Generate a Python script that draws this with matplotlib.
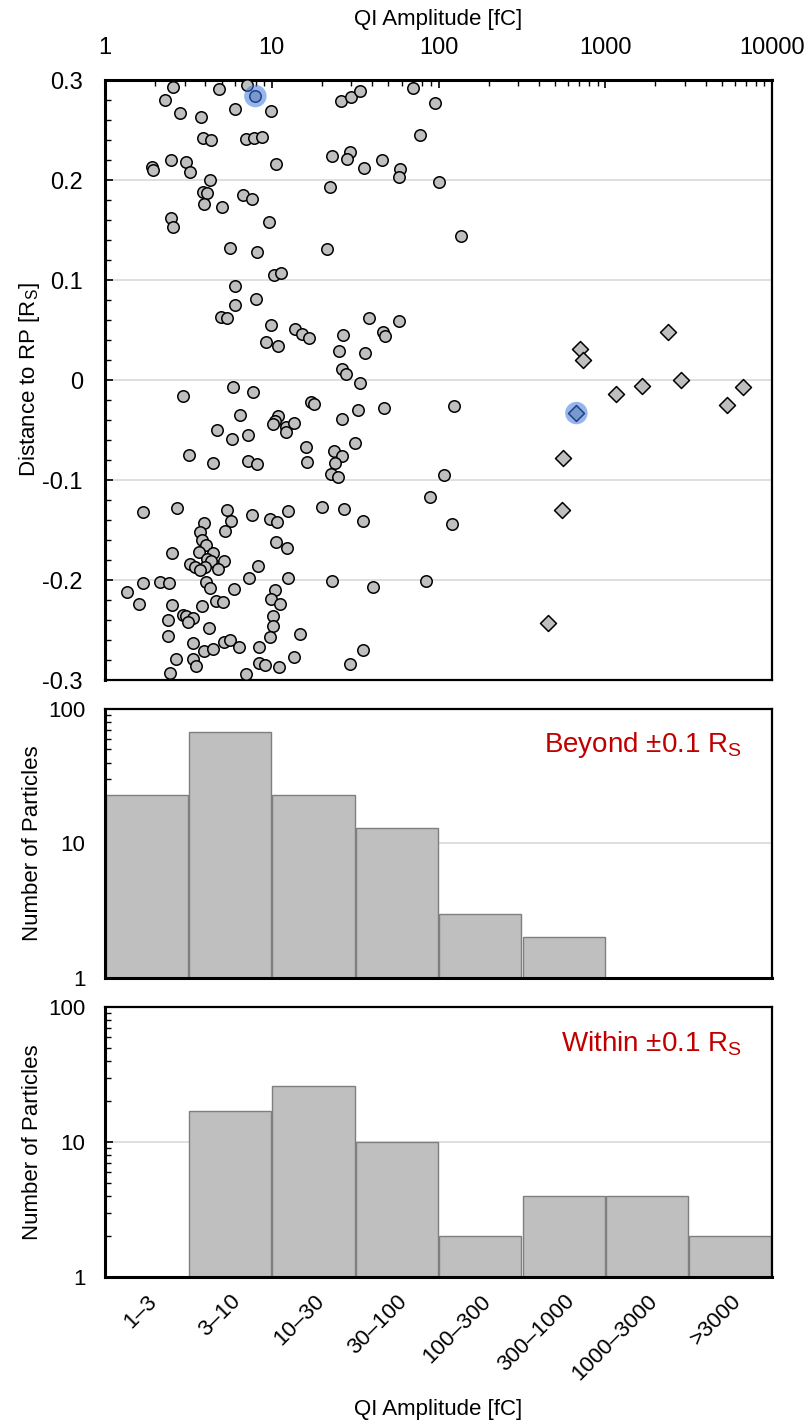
import matplotlib
matplotlib.use("Agg")
import matplotlib.pyplot as plt
from matplotlib.ticker import FixedLocator, LogLocator, MultipleLocator, NullFormatter, FuncFormatter
import numpy as np

plt.rcParams["font.family"] = ["Liberation Sans", "DejaVu Sans"]
plt.rcParams["mathtext.default"] = "regular"

# ── scatter data: QI amplitude [fC] vs distance to RP [Rs] ──
amp_circle = [
    2.57, 2.29, 2.82, 3.76, 4.83, 7.07, 6.02, 9.86, 3.89, 4.32,
    6.98, 7.86, 8.74, 2.49, 1.91, 1.95, 3.06, 3.25, 10.6, 4.28,
    3.89, 4.11, 3.92, 5.05, 6.70, 7.58, 2.49, 2.55, 9.67, 5.60,
    8.16, 10.3, 11.3, 6.02, 8.01, 6.05, 4.94, 5.37, 9.86, 9.24,
    10.9, 5.88, 7.69, 2.92, 6.42, 10.95, 10.5, 10.2, 12.1, 13.5,
    12.1, 4.68, 5.75, 7.20, 3.20, 4.42, 7.20, 8.16, 1.70, 2.69,
    5.37, 5.67, 7.65, 9.76, 10.75, 3.92, 3.71, 5.27, 3.80, 10.6,
    4.03, 3.65, 2.53, 4.42, 4.11, 4.32, 5.15, 3.23, 3.48, 3.98,
    3.71, 4.74, 8.24, 7.30, 1.355, 1.68, 2.14, 2.43, 4.03, 4.26,
    5.91, 1.60, 2.51, 3.80, 4.61, 5.08, 2.95, 3.05, 3.38, 3.13,
    2.38, 10.5, 9.86, 11.2, 10.1, 10.1, 4.19, 2.40, 9.76, 3.36,
    5.19, 5.62, 6.36, 8.42, 3.92, 4.42, 2.67, 3.36, 3.50, 8.35,
    9.07, 11.1, 2.45, 6.98, 7.97,
    26.0, 30.0, 34.0, 70.6, 95.7, 77.8, 23.0, 29.6, 28.3, 35.8,
    46.0, 59.0, 57.7, 100.3, 22.4, 21.4, 136, 13.8, 15.2, 16.7,
    26.6, 25.4, 36.2, 38.1, 46.7, 48.0, 58.2, 26.4, 27.8, 33.7,
    17.1, 17.8, 32.8, 47.3, 124, 26.4, 16.1, 16.3, 23.7, 26.4,
    31.7, 24.1, 22.8, 25.1, 108, 88.9, 19.9, 27.2, 12.5, 35.4,
    120, 12.3, 12.5, 23.0, 40.5, 84.5, 14.8, 35.1, 13.5, 29.6,
]
dist_circle = [
    0.293, 0.280, 0.267, 0.263, 0.291, 0.295, 0.271, 0.269, 0.242, 0.240,
    0.241, 0.242, 0.243, 0.220, 0.213, 0.210, 0.218, 0.208, 0.216, 0.200,
    0.188, 0.187, 0.176, 0.173, 0.185, 0.181, 0.162, 0.153, 0.158, 0.132,
    0.128, 0.105, 0.107, 0.094, 0.081, 0.075, 0.063, 0.062, 0.055, 0.038,
    0.034, -0.007, -0.012, -0.016, -0.035, -0.036, -0.041, -0.044, -0.047, -0.043,
    -0.052, -0.050, -0.059, -0.055, -0.075, -0.083, -0.081, -0.084, -0.132, -0.128,
    -0.130, -0.141, -0.135, -0.139, -0.142, -0.143, -0.152, -0.151, -0.160, -0.162,
    -0.165, -0.172, -0.173, -0.173, -0.179, -0.181, -0.181, -0.184, -0.187, -0.187,
    -0.190, -0.189, -0.186, -0.198, -0.212, -0.203, -0.202, -0.203, -0.202, -0.208,
    -0.209, -0.224, -0.225, -0.226, -0.221, -0.222, -0.235, -0.236, -0.238, -0.242,
    -0.240, -0.210, -0.219, -0.224, -0.236, -0.246, -0.248, -0.256, -0.257, -0.263,
    -0.262, -0.260, -0.267, -0.267, -0.271, -0.269, -0.279, -0.279, -0.286, -0.283,
    -0.285, -0.287, -0.293, -0.294, 0.284,
    0.279, 0.283, 0.289, 0.292, 0.277, 0.245, 0.224, 0.228, 0.221, 0.212,
    0.220, 0.211, 0.203, 0.198, 0.193, 0.131, 0.144, 0.051, 0.046, 0.042,
    0.045, 0.029, 0.027, 0.062, 0.048, 0.044, 0.059, 0.011, 0.006, -0.003,
    -0.022, -0.024, -0.030, -0.028, -0.026, -0.039, -0.067, -0.082, -0.071, -0.076,
    -0.063, -0.083, -0.094, -0.097, -0.095, -0.117, -0.127, -0.129, -0.131, -0.141,
    -0.144, -0.168, -0.198, -0.201, -0.207, -0.201, -0.254, -0.270, -0.277, -0.284,
]
amp_diamond = [706, 736, 2388, 1160, 1668, 2858, 6700, 5370, 671, 560, 553, 456]
dist_diamond = [0.031, 0.020, 0.048, -0.014, -0.006, 0.000, -0.007, -0.025, -0.033, -0.078, -0.130, -0.243]

# highlighted particles
amp_highlight = [7.97, 671]
dist_highlight = [0.284, -0.033]

# ── histogram data ──
bins = ["1–3", "3–10", "10–30", "30–100", "100–300", "300–1000", "1000–3000", ">3000"]
count_beyond = [23, 67, 23, 13, 3, 2, 0, 0]
count_within = [0, 17, 26, 10, 2, 4, 4, 2]

GREY = "#bfbfbf"
GRID = "#d9d9d9"
RED = "#c00000"
FS_LAB = 16
FS_TICK = 17
FS_HTICK = 16

fig = plt.figure(figsize=(8.08, 14.2), dpi=100)
ax_sc = fig.add_axes([0.1300, 0.5211, 0.8255, 0.4225])
ax_h1 = fig.add_axes([0.1300, 0.3113, 0.8255, 0.1894])
ax_h2 = fig.add_axes([0.1300, 0.1007, 0.8255, 0.1901])

# ── scatter panel ──
ax_sc.set_xscale("log")
ax_sc.set_xlim(1, 10000)
ax_sc.set_ylim(-0.3, 0.3)
for yv in [-0.2, -0.1, 0, 0.1, 0.2]:
    ax_sc.axhline(yv, color=GRID, lw=1.2, zorder=0)

ax_sc.scatter(amp_circle, dist_circle, s=68, marker="o", facecolor=GREY,
              edgecolor="black", linewidth=1.1, zorder=3)
ax_sc.scatter(amp_diamond, dist_diamond, s=66, marker="D", facecolor=GREY,
              edgecolor="black", linewidth=1.1, zorder=3)
ax_sc.scatter(amp_highlight, dist_highlight, s=260, marker="o",
              facecolor="#3d78e0", edgecolor="none", alpha=0.55, zorder=4)

ax_sc.xaxis.tick_top()
ax_sc.xaxis.set_label_position("top")
ax_sc.xaxis.set_major_locator(FixedLocator([1, 10, 100, 1000, 10000]))
ax_sc.xaxis.set_major_formatter(FuncFormatter(lambda v, p: f"{v:g}"))
ax_sc.xaxis.set_minor_locator(LogLocator(base=10, subs=np.arange(2, 10)))
ax_sc.xaxis.set_minor_formatter(NullFormatter())
ax_sc.set_xlabel("QI Amplitude [fC]", fontsize=FS_LAB, labelpad=9)
ax_sc.yaxis.set_major_locator(MultipleLocator(0.1))
ax_sc.yaxis.set_minor_locator(MultipleLocator(0.02))
ax_sc.yaxis.set_major_formatter(FuncFormatter(lambda v, p: "0" if abs(v) < 1e-9 else f"{v:.1f}"))
ax_sc.set_ylabel("Distance to RP [R$_S$]", fontsize=FS_LAB, labelpad=0)
ax_sc.tick_params(axis="both", which="both", direction="in", labelsize=FS_TICK)
ax_sc.tick_params(axis="x", which="major", length=6, width=1.2, pad=15)
ax_sc.tick_params(axis="x", which="minor", length=4, width=1.0)
ax_sc.tick_params(axis="y", which="major", length=6, width=1.2, pad=16)
ax_sc.tick_params(axis="y", which="minor", length=4, width=1.0)

# ── histogram panels ──
xpos = np.arange(len(bins))
for ax, counts, title in [(ax_h1, count_beyond, "Beyond ±0.1 R$_S$"),
                          (ax_h2, count_within, "Within ±0.1 R$_S$")]:
    counts = np.array(counts)
    keep = counts > 0
    ax.set_yscale("log")
    ax.set_ylim(1, 100)
    ax.set_xlim(-0.5, len(bins) - 0.5)
    ax.axhline(10, color=GRID, lw=1.2, zorder=0)
    ax.bar(xpos[keep], counts[keep] - 1, bottom=1, width=0.985,
           color=GREY, edgecolor="#7f7f7f", linewidth=1.0, zorder=2)
    ax.text(0.955, 0.865, title, transform=ax.transAxes, ha="right", va="center",
            fontsize=20, color=RED)
    ax.set_ylabel("Number of Particles", fontsize=FS_LAB, labelpad=4)
    ax.yaxis.set_major_locator(FixedLocator([1, 10, 100]))
    ax.yaxis.set_major_formatter(FuncFormatter(lambda v, p: f"{v:g}"))
    ax.yaxis.set_minor_locator(LogLocator(base=10, subs=np.arange(2, 10)))
    ax.yaxis.set_minor_formatter(NullFormatter())
    ax.tick_params(axis="y", which="both", direction="in", labelsize=FS_HTICK, right=False)
    ax.tick_params(axis="y", which="major", length=6, width=1.2, pad=14)
    ax.tick_params(axis="y", which="minor", length=4, width=1.0)
    ax.set_xticks(xpos)
    ax.tick_params(axis="x", length=0, labelsize=FS_HTICK)

ax_h1.set_xticklabels([])
ax_h2.set_xticklabels(bins, rotation=45, ha="right", rotation_mode="anchor")
ax_h2.tick_params(axis="x", pad=10)
ax_h2.set_xlabel("QI Amplitude [fC]", fontsize=FS_LAB, labelpad=10)

for ax in [ax_sc, ax_h1, ax_h2]:
    for side in ["left", "bottom", "top", "right"]:
        ax.spines[side].set_color("black")
        ax.spines[side].set_linewidth(1.6)
    ax.spines["left"].set_linewidth(2.2)
ax_sc.spines["top"].set_linewidth(2.2)
ax_h1.spines["bottom"].set_linewidth(2.2)
ax_h2.spines["bottom"].set_linewidth(2.2)

fig.savefig("out.png", dpi=100, facecolor="white")
